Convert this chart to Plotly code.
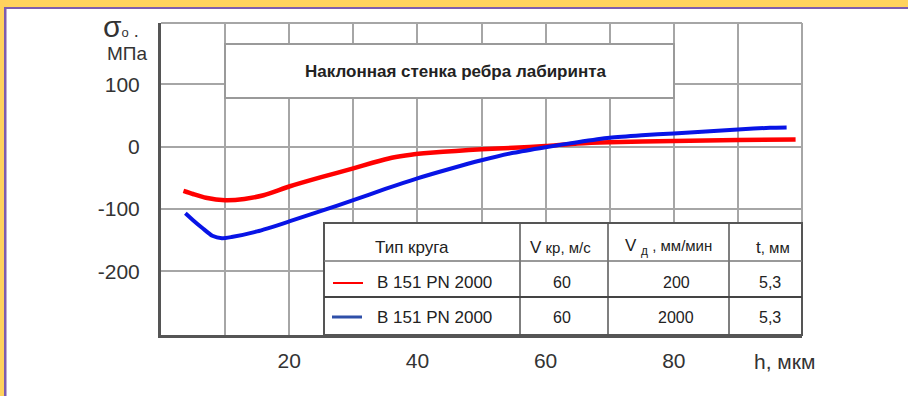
import plotly.graph_objects as go

# Residual stress vs. depth, two grinding regimes
h_red = [3.5, 5, 7, 10, 13, 16, 20, 25, 30, 33, 36, 39, 42, 46, 50, 55, 60, 65, 70, 80, 90, 99]
s_red = [-71, -76, -82, -86, -84, -78, -64, -49, -35, -26, -18, -13, -10, -7, -4.5, -2, 1, 5, 7, 9, 10.5, 11.5]

h_blue = [3.8, 5, 6.5, 8, 9.5, 11, 15, 20, 25, 30, 35, 40, 45, 50, 55, 60, 65, 70, 75, 80, 85, 90, 95, 97.6]
s_blue = [-107, -118, -131, -143, -147, -145, -136, -120, -103, -86, -68, -51, -36, -22, -10, -1, 7, 14, 18, 21, 24, 27.5, 30, 30.5]

x_ticks = [20, 40, 60, 80]
y_ticks = [-200, -100, 0, 100]
y_ticktext = ["-200", "-100", "0", "100"]

title_text = "Наклонная стенка ребра лабиринта"
table_header = ["Тип круга", "V<span style='font-size:15px'> кр, м/с</span>",
                "V <sub>д</sub><span style='font-size:15px'> , мм/мин</span>",
                "t<span style='font-size:15px'>, мм</span>"]
wheel = ["B 151 PN 2000", "B 151 PN 2000"]
v_kr = ["60", "60"]
v_d = ["200", "2000"]
t_mm = ["5,3", "5,3"]

RED = "#ff0000"
BLUE = "#0814e6"
GRID = "#a6a6a6"
AXIS = "#555555"
TXT = "#222222"

W, H = 908, 396
L, R, T, B = 161, 802, 23, 335
PW, PH = R - L, B - T


def px(x):
    return (x - L) / PW


def py(y):
    return (B - y) / PH


fig = go.Figure()
fig.add_trace(go.Scatter(x=h_red, y=s_red, mode="lines",
                         line=dict(color=RED, width=4.5, shape="spline", smoothing=0.6),
                         showlegend=False, hoverinfo="skip"))
fig.add_trace(go.Scatter(x=h_blue, y=s_blue, mode="lines",
                         line=dict(color=BLUE, width=4, shape="spline", smoothing=0.6),
                         showlegend=False, hoverinfo="skip"))

font_family = "Liberation Sans, Arial, sans-serif"

fig.update_layout(
    width=W, height=H, autosize=False,
    margin=dict(l=L, r=W - R, t=T, b=H - B, pad=0),
    paper_bgcolor="white", plot_bgcolor="white",
    font=dict(family=font_family, color="#333333"),
    xaxis=dict(range=[0, 100], tickvals=x_ticks, ticks="", showgrid=True,
               gridcolor=GRID, gridwidth=2, zeroline=False,
               minor=dict(dtick=10, tick0=0, showgrid=True, gridcolor=GRID, gridwidth=2),
               showline=True, linecolor=AXIS, linewidth=3,
               tickfont=dict(size=21, color="#333333"), ticklabelstandoff=5),
    yaxis=dict(range=[-302, 198], tickvals=y_ticks, ticktext=y_ticktext, ticks="",
               showgrid=True, gridcolor=GRID, gridwidth=2, zeroline=False,
               showline=True, linecolor=AXIS, linewidth=3,
               tickfont=dict(size=21, color="#333333"), ticklabelstandoff=14),
)

shapes = []
# frame top and right edges
shapes.append(dict(type="line", xref="paper", yref="paper", x0=0, x1=1, y0=1, y1=1,
                   line=dict(color=GRID, width=2)))
shapes.append(dict(type="line", xref="paper", yref="paper", x0=1, x1=1, y0=0, y1=1,
                   line=dict(color=GRID, width=2)))
# title box
shapes.append(dict(type="rect", xref="paper", yref="paper", x0=px(225), x1=px(674),
                   y0=py(98), y1=py(44), fillcolor="white", line=dict(color="#9a9a9a", width=2),
                   layer="above"))
# table
shapes.append(dict(type="rect", xref="paper", yref="paper", x0=px(324), x1=px(802),
                   y0=py(335), y1=py(223), fillcolor="white", line=dict(color=AXIS, width=2),
                   layer="above"))
for cx in [520, 608, 729]:
    shapes.append(dict(type="line", xref="paper", yref="paper", x0=px(cx), x1=px(cx),
                       y0=py(335), y1=py(223), line=dict(color=AXIS, width=1.5), layer="above"))
shapes.append(dict(type="line", xref="paper", yref="paper", x0=px(324), x1=px(802),
                   y0=py(261), y1=py(261), line=dict(color="#777777", width=1.5), layer="above"))
shapes.append(dict(type="line", xref="paper", yref="paper", x0=px(324), x1=px(802),
                   y0=py(297), y1=py(297), line=dict(color="#444444", width=2.2), layer="above"))
# legend swatches
shapes.append(dict(type="line", xref="paper", yref="paper", x0=px(333), x1=px(363),
                   y0=py(283), y1=py(283), line=dict(color=RED, width=2), layer="above"))
shapes.append(dict(type="line", xref="paper", yref="paper", x0=px(332), x1=px(362),
                   y0=py(317), y1=py(317), line=dict(color="#2e4fa8", width=3), layer="above"))
# page border
shapes.append(dict(type="rect", xref="paper", yref="paper", x0=px(0), x1=px(W), y0=py(0), y1=py(7),
                   fillcolor="#ffd25e", line=dict(width=0), layer="above"))
shapes.append(dict(type="rect", xref="paper", yref="paper", x0=px(0), x1=px(4), y0=py(0), y1=py(H),
                   fillcolor="#ffd25e", line=dict(width=0), layer="above"))
shapes.append(dict(type="rect", xref="paper", yref="paper", x0=px(4), x1=px(W), y0=py(7), y1=py(9),
                   fillcolor="#7d5cb0", line=dict(width=0), layer="above"))
shapes.append(dict(type="rect", xref="paper", yref="paper", x0=px(4), x1=px(6.5), y0=py(7), y1=py(H),
                   fillcolor="#7d5cb0", line=dict(width=0), layer="above"))
fig.update_layout(shapes=shapes)

ann = []


def text(x, y, s, size, anchor="center", color=TXT, bold=False):
    if bold:
        s = "<b>" + s + "</b>"
    ann.append(dict(xref="paper", yref="paper", x=px(x), y=py(y), text=s, showarrow=False,
                    xanchor=anchor, yanchor="middle", font=dict(size=size, color=color,
                                                                 family=font_family)))


text(121, 27, "σ<span style='font-size:13px'>o</span><span style='font-size:18px'> .</span>",
     30, color="#333333")
text(126.5, 53, "МПа", 19, color="#333333")
text(456, 71, title_text, 17, bold=True)
text(752, 361, "h, мкм", 21, anchor="left", color="#333333")

for s, cx in zip(table_header, [412, 560, 668, 773]):
    text(cx, 247, s, 17)
for i, ry in enumerate([282, 317]):
    text(375, ry, wheel[i], 17, anchor="left")
    text(562, ry, v_kr[i], 16)
    text(676, ry, v_d[i], 16)
    text(770, ry, t_mm[i], 16)

fig.update_layout(annotations=ann)

fig.write_html("out.html")
